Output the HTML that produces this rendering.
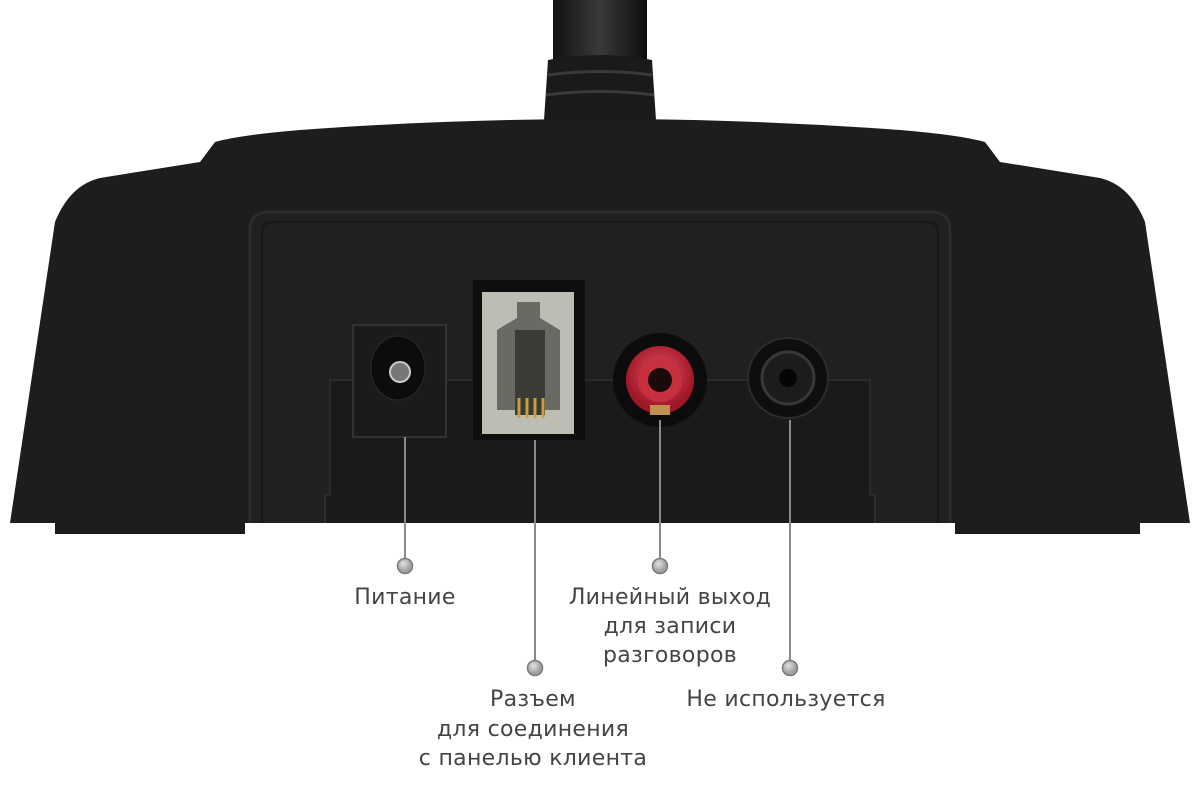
<!DOCTYPE html>
<html><head><meta charset="utf-8"><style>
html,body{margin:0;padding:0;background:#fff;width:1200px;height:800px;overflow:hidden}
svg{display:block}
text{font-family:"DejaVu Sans","Liberation Sans",sans-serif;font-size:22px;fill:#444;text-anchor:middle;letter-spacing:0.3px}
</style></head><body>
<svg width="1200" height="800" viewBox="0 0 1200 800">
<defs>
<linearGradient id="neck" x1="0" x2="1"><stop offset="0" stop-color="#111"/><stop offset=".5" stop-color="#3a3a3a"/><stop offset="1" stop-color="#0d0d0d"/></linearGradient>
<radialGradient id="red" cx=".5" cy=".4"><stop offset="0" stop-color="#e05060"/><stop offset="1" stop-color="#a01828"/></radialGradient>
<radialGradient id="dot" cx=".4" cy=".35"><stop offset="0" stop-color="#e0e0e0"/><stop offset="1" stop-color="#a0a0a0"/></radialGradient>
</defs>
<rect x="553" y="0" width="94" height="90" fill="url(#neck)"/>
<path d="M548 60 Q600 50 652 60 L656 120 L544 120 Z" fill="#1a1a1a"/>
<path d="M548 75 Q600 68 652 75 M546 95 Q600 88 654 95" stroke="#3a3a3a" stroke-width="3" fill="none"/>
<rect x="55" y="518" width="190" height="16" fill="#1c1c1c"/>
<rect x="955" y="518" width="185" height="16" fill="#1c1c1c"/>
<path d="M10 523 L55 222 Q70 185 100 178 L200 162 L215 142 Q240 135 300 130 Q600 108 900 130 Q960 135 985 142 L1000 162 L1100 178 Q1130 185 1145 222 L1190 523 Z" fill="#1d1d1d"/>
<path d="M250 523 L250 230 Q250 212 270 212 L930 212 Q950 212 950 230 L950 523" fill="#202020" stroke="#2c2c2c" stroke-width="3"/>
<path d="M262 523 L262 232 Q262 222 275 222 L925 222 Q938 222 938 232 L938 523" fill="none" stroke="#171717" stroke-width="2"/>
<path d="M325 523 L325 495 L330 495 L330 380 L870 380 L870 495 L875 495 L875 523" fill="#1a1a1a" stroke="#2b2b2b" stroke-width="2"/>
<rect x="353" y="325" width="93" height="112" fill="#1b1b1b" stroke="#333" stroke-width="2"/>
<ellipse cx="398" cy="368" rx="27" ry="32" fill="#0c0c0c" stroke="#2a2a2a"/>
<circle cx="400" cy="372" r="10" fill="#777" stroke="#ccc" stroke-width="2"/>
<rect x="473" y="280" width="112" height="160" fill="#0e0e0e"/>
<path d="M482 292 L574 292 L574 434 L482 434 Z" fill="#bdbdb3"/>
<path d="M497 330 L517 318 L517 302 L540 302 L540 318 L560 330 L560 410 L497 410 Z" fill="#6a6a64"/>
<rect x="515" y="330" width="30" height="85" fill="#3a3a36"/>
<g stroke="#c8a040" stroke-width="3"><line x1="519" y1="398" x2="519" y2="418"/><line x1="527" y1="398" x2="527" y2="418"/><line x1="535" y1="398" x2="535" y2="418"/><line x1="543" y1="398" x2="543" y2="418"/></g>
<circle cx="660" cy="380" r="47" fill="#0c0c0c"/>
<circle cx="660" cy="380" r="34" fill="url(#red)"/>
<circle cx="660" cy="380" r="22" fill="#c83040"/>
<circle cx="660" cy="380" r="12" fill="#1a0a0a"/>
<rect x="650" y="405" width="20" height="10" fill="#c09050"/>
<circle cx="788" cy="378" r="40" fill="#0e0e0e" stroke="#2c2c2c" stroke-width="2"/>
<circle cx="788" cy="378" r="26" fill="#1c1c1c" stroke="#383838" stroke-width="3"/>
<circle cx="788" cy="378" r="9" fill="#050505"/>
<g stroke="#8a8a8a" stroke-width="2">
<line x1="405" y1="437" x2="405" y2="558"/>
<line x1="535" y1="440" x2="535" y2="660"/>
<line x1="660" y1="420" x2="660" y2="558"/>
<line x1="790" y1="420" x2="790" y2="660"/>
</g>
<g fill="url(#dot)" stroke="#7a7a7a" stroke-width="1.5">
<circle cx="405" cy="566" r="7.5"/>
<circle cx="535" cy="668" r="7.5"/>
<circle cx="660" cy="566" r="7.5"/>
<circle cx="790" cy="668" r="7.5"/>
</g>
<text x="405" y="604">Питание</text>
<text x="670" y="604">Линейный выход</text>
<text x="670" y="633">для записи</text>
<text x="670" y="662">разговоров</text>
<text x="533" y="706">Разъем</text>
<text x="533" y="736">для соединения</text>
<text x="533" y="765">с панелью клиента</text>
<text x="786" y="706">Не используется</text>
</svg>
</body></html>
